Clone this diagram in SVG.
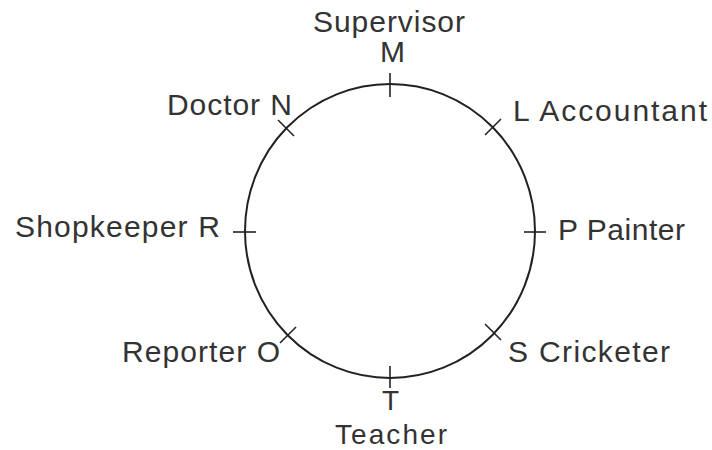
<svg xmlns="http://www.w3.org/2000/svg" width="712" height="450" viewBox="0 0 712 450">
<style>
text{font-family:"Liberation Sans",Arial,sans-serif;font-size:30px;fill:#333}
.tick{stroke:#222;stroke-width:1.6;fill:none}
.ring{stroke:#222;stroke-width:2;fill:none}
</style>
<rect width="712" height="450" fill="#fff"/>
<g id="connectors">
<ellipse class="ring" cx="390" cy="231" rx="145" ry="147"/>
</g>
<g id="node-M">
<line class="tick" x1="390" y1="73" x2="390" y2="97"/>
<text x="313" y="32" textLength="152">Supervisor</text>
<text x="380" y="62" textLength="23">M</text>
</g>
<g id="node-L">
<line class="tick" x1="485" y1="135" x2="501" y2="119"/>
<text x="513" y="121" textLength="194">L Accountant</text>
</g>
<g id="node-P">
<line class="tick" x1="524" y1="232" x2="546" y2="232"/>
<text x="558" y="240" textLength="127">P Painter</text>
</g>
<g id="node-S">
<line class="tick" x1="485" y1="324" x2="501" y2="340"/>
<text x="508" y="362" textLength="162">S Cricketer</text>
</g>
<g id="node-T">
<line class="tick" x1="390" y1="366" x2="390" y2="388"/>
<text x="382" y="410" textLength="18" style="font-size:28px">T</text>
<text x="335" y="444" textLength="112" style="font-size:28px">Teacher</text>
</g>
<g id="node-O">
<line class="tick" x1="280" y1="343" x2="296" y2="327"/>
<text x="122" y="362" textLength="158">Reporter O</text>
</g>
<g id="node-R">
<line class="tick" x1="233" y1="232" x2="256" y2="232"/>
<text x="15" y="237" textLength="205">Shopkeeper R</text>
</g>
<g id="node-N">
<line class="tick" x1="278" y1="120" x2="294" y2="136"/>
<text x="167" y="115" textLength="125">Doctor N</text>
</g>
</svg>
